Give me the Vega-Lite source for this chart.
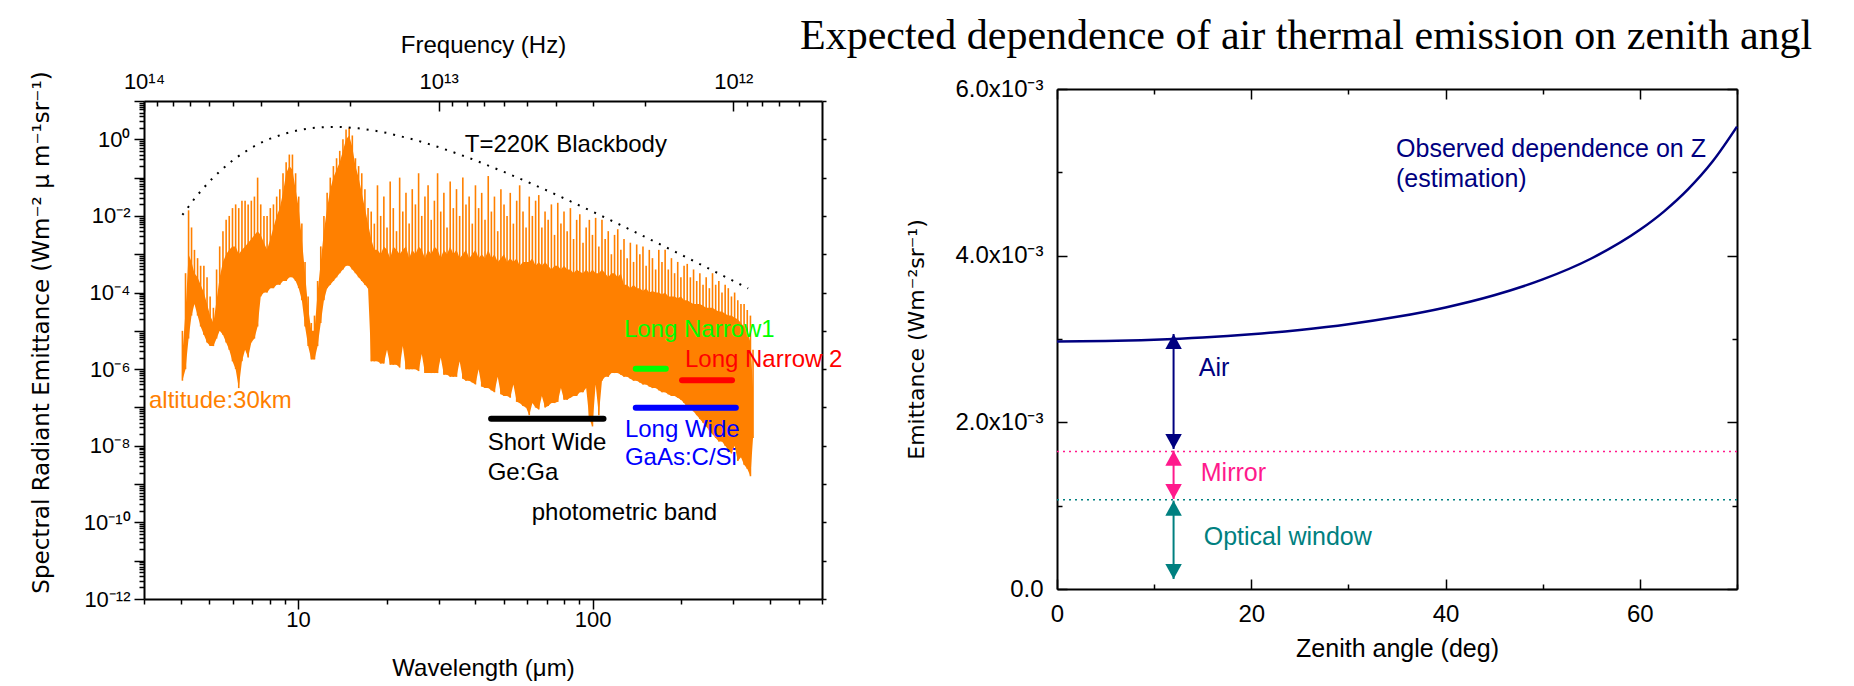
{
"$schema": "https://vega.github.io/schema/vega-lite/v6.json",
"background": "white",
"padding": {"left": 30, "top": 15, "right": 5, "bottom": 5},
"bounds": "flush",
"spacing": 235,
"resolve": {"scale": {"color": "independent", "shape": "independent"}},
"config": {
  "view": {"stroke": null},
  "axis": {"grid": false, "domainColor": "#000000", "tickColor": "#000000", "labelColor": "#000000", "titleColor": "#000000", "labelFont": "Liberation Sans", "titleFont": "Liberation Sans", "titleFontWeight": "normal", "labelFlush": false, "labelOverlap": false, "labelBound": false, "domainWidth": 2, "tickWidth": 1.5},
  "text": {"font": "Liberation Sans"}
},
"datasets": {
  "spec": [
    {"w":4.05,"lo":5e-7,"mid":2.5e-6,"hi":1e-5},
    {"w":4.15,"lo":1e-6,"mid":3.2e-5,"hi":3.2e-4},
    {"w":4.25,"lo":6.3e-6,"mid":1e-3,"hi":1.4e-2},
    {"w":4.35,"lo":2.5e-5,"mid":6.3e-4,"hi":5e-3},
    {"w":4.45,"lo":5e-5,"mid":3.2e-4,"hi":1.3e-3},
    {"w":4.56,"lo":2.5e-5,"mid":2.5e-4,"hi":7.9e-4},
    {"w":4.67,"lo":1.3e-5,"mid":1.6e-4,"hi":5e-4},
    {"w":4.79,"lo":7.9e-6,"mid":1e-4,"hi":5e-4},
    {"w":4.91,"lo":5e-6,"mid":5e-5,"hi":2.5e-4},
    {"w":5.03,"lo":4e-6,"mid":2.5e-5,"hi":7.9e-5},
    {"w":5.16,"lo":4e-6,"mid":1.6e-5,"hi":4e-5},
    {"w":5.29,"lo":6.3e-6,"mid":6.3e-5,"hi":4e-4},
    {"w":5.42,"lo":1e-5,"mid":2.5e-4,"hi":1.6e-3},
    {"w":5.56,"lo":7.9e-6,"mid":6.3e-4,"hi":4e-3},
    {"w":5.7,"lo":5e-6,"mid":1e-3,"hi":7.9e-3},
    {"w":5.84,"lo":3.2e-6,"mid":1.3e-3,"hi":1e-2},
    {"w":5.99,"lo":1.6e-6,"mid":1.6e-3,"hi":1.6e-2},
    {"w":6.14,"lo":1e-6,"mid":1.6e-3,"hi":2e-2},
    {"w":6.29,"lo":3.2e-7,"mid":1e-3,"hi":1.6e-2},
    {"w":6.45,"lo":1.6e-6,"mid":1.3e-3,"hi":2.5e-2},
    {"w":6.61,"lo":3.2e-6,"mid":1.6e-3,"hi":2.5e-2},
    {"w":6.77,"lo":2e-6,"mid":2e-3,"hi":2e-2},
    {"w":6.94,"lo":5e-6,"mid":2.5e-3,"hi":2.5e-2},
    {"w":7.11,"lo":6.3e-6,"mid":3.2e-3,"hi":3.2e-2},
    {"w":7.29,"lo":1.3e-5,"mid":4e-3,"hi":1e-1},
    {"w":7.47,"lo":7.9e-5,"mid":3.2e-3,"hi":2e-2},
    {"w":7.66,"lo":1e-4,"mid":2e-3,"hi":1e-2},
    {"w":7.85,"lo":1e-4,"mid":1.3e-3,"hi":1e-2},
    {"w":8.05,"lo":1.3e-4,"mid":2.5e-3,"hi":1.6e-2},
    {"w":8.25,"lo":1.3e-4,"mid":5e-3,"hi":2e-2},
    {"w":8.46,"lo":1.6e-4,"mid":1e-2,"hi":3.2e-2},
    {"w":8.67,"lo":1.6e-4,"mid":1.6e-2,"hi":5e-2},
    {"w":8.89,"lo":2e-4,"mid":4e-2,"hi":1.3e-1},
    {"w":9.11,"lo":2e-4,"mid":1.3e-1,"hi":2.5e-1},
    {"w":9.34,"lo":2.5e-4,"mid":2e-1,"hi":4e-1},
    {"w":9.57,"lo":2.5e-4,"mid":1.6e-1,"hi":4e-1},
    {"w":9.81,"lo":2e-4,"mid":5e-2,"hi":1.3e-1},
    {"w":10.05,"lo":1.3e-4,"mid":1.6e-2,"hi":3.2e-2},
    {"w":10.3,"lo":6.3e-5,"mid":2.5e-3,"hi":6.3e-3},
    {"w":10.56,"lo":1.3e-5,"mid":3.2e-4,"hi":6.3e-4},
    {"w":10.82,"lo":4e-6,"mid":4e-5,"hi":7.9e-5},
    {"w":11.09,"lo":1.8e-6,"mid":1e-5,"hi":1.6e-5},
    {"w":11.37,"lo":1.8e-6,"mid":1e-5,"hi":2.5e-5},
    {"w":11.65,"lo":4e-6,"mid":1e-4,"hi":2e-4},
    {"w":11.94,"lo":1.6e-5,"mid":6.3e-4,"hi":1.6e-3},
    {"w":12.24,"lo":6.3e-5,"mid":4e-3,"hi":1e-2},
    {"w":12.55,"lo":1.3e-4,"mid":1.6e-2,"hi":4e-2},
    {"w":12.86,"lo":1.6e-4,"mid":5e-2,"hi":1e-1},
    {"w":13.18,"lo":2e-4,"mid":1e-1,"hi":2e-1},
    {"w":13.51,"lo":2.5e-4,"mid":1.6e-1,"hi":3.2e-1},
    {"w":13.85,"lo":3.2e-4,"mid":2.5e-1,"hi":5e-1},
    {"w":14.2,"lo":4e-4,"mid":5e-1,"hi":1},
    {"w":14.55,"lo":5e-4,"mid":1,"hi":1.8},
    {"w":14.91,"lo":5e-4,"mid":1.26,"hi":2},
    {"w":15.28,"lo":4e-4,"mid":6.3e-1,"hi":1.26},
    {"w":15.66,"lo":3.2e-4,"mid":2e-1,"hi":3.2e-1},
    {"w":16.05,"lo":2.5e-4,"mid":1e-1,"hi":2e-1},
    {"w":16.45,"lo":2e-4,"mid":4e-2,"hi":1.3e-1},
    {"w":16.86,"lo":1.6e-4,"mid":1.6e-2,"hi":5e-2},
    {"w":17.28,"lo":1.3e-4,"mid":6.3e-3,"hi":1.6e-2},
    {"w":17.71,"lo":1.6e-6,"mid":2.5e-3,"hi":1.3e-2},
    {"w":18.15,"lo":1.6e-6,"mid":1.3e-3,"hi":6.3e-3},
    {"w":18.6,"lo":1.6e-6,"mid":1.3e-3,"hi":6.3e-2},
    {"w":19.07,"lo":1.4e-6,"mid":1e-3,"hi":1e-2},
    {"w":19.55,"lo":1.4e-6,"mid":1.6e-3,"hi":3.2e-2},
    {"w":20.04,"lo":3.2e-6,"mid":1.3e-3,"hi":5e-3},
    {"w":20.54,"lo":1.3e-6,"mid":7.9e-4,"hi":7.9e-2},
    {"w":21.05,"lo":1.3e-6,"mid":1.6e-3,"hi":1.6e-2},
    {"w":21.58,"lo":1.3e-6,"mid":1.3e-3,"hi":4e-3},
    {"w":22.12,"lo":1.1e-6,"mid":1e-3,"hi":1e-1},
    {"w":22.67,"lo":4e-6,"mid":1.3e-3,"hi":1.3e-2},
    {"w":23.24,"lo":1e-6,"mid":1.6e-3,"hi":4e-2},
    {"w":23.82,"lo":1e-6,"mid":7.9e-4,"hi":6.3e-3},
    {"w":24.41,"lo":1e-6,"mid":1.3e-3,"hi":5e-2},
    {"w":25.02,"lo":1e-6,"mid":1e-3,"hi":2e-2},
    {"w":25.65,"lo":8.9e-7,"mid":1.6e-3,"hi":1.3e-1},
    {"w":26.29,"lo":2.5e-6,"mid":1.3e-3,"hi":1e-2},
    {"w":26.95,"lo":7.9e-7,"mid":7.9e-4,"hi":3.2e-2},
    {"w":27.62,"lo":7.9e-7,"mid":1.3e-3,"hi":6.3e-2},
    {"w":28.31,"lo":7.9e-7,"mid":1e-3,"hi":7.9e-3},
    {"w":29.02,"lo":7.9e-7,"mid":1.6e-3,"hi":2.5e-2},
    {"w":29.75,"lo":7.9e-7,"mid":1.3e-3,"hi":1.3e-1},
    {"w":30.49,"lo":2e-6,"mid":7.9e-4,"hi":1.3e-2},
    {"w":31.25,"lo":7.1e-7,"mid":1.3e-3,"hi":4e-2},
    {"w":32.03,"lo":7.1e-7,"mid":1e-3,"hi":5e-3},
    {"w":32.83,"lo":6.3e-7,"mid":1.6e-3,"hi":7.9e-2},
    {"w":33.65,"lo":6.3e-7,"mid":1e-3,"hi":1.6e-2},
    {"w":34.49,"lo":6.3e-7,"mid":1.3e-3,"hi":5e-2},
    {"w":35.35,"lo":1.6e-6,"mid":7.9e-4,"hi":1e-2},
    {"w":36.24,"lo":5.6e-7,"mid":1e-3,"hi":1e-1},
    {"w":37.14,"lo":5e-7,"mid":1.3e-3,"hi":2e-2},
    {"w":38.07,"lo":5e-7,"mid":7.9e-4,"hi":3.2e-2},
    {"w":39.02,"lo":4.5e-7,"mid":1e-3,"hi":6.3e-3},
    {"w":40,"lo":4e-7,"mid":1.3e-3,"hi":6.3e-2},
    {"w":41,"lo":1e-6,"mid":7.9e-4,"hi":1.6e-2},
    {"w":42,"lo":3.5e-7,"mid":1e-3,"hi":4e-2},
    {"w":43.1,"lo":3.2e-7,"mid":7.9e-4,"hi":7.9e-3},
    {"w":44.2,"lo":3.2e-7,"mid":1.3e-3,"hi":1.1e-1},
    {"w":45.3,"lo":2.8e-7,"mid":7.9e-4,"hi":1.3e-2},
    {"w":46.4,"lo":2.5e-7,"mid":1e-3,"hi":3.2e-2},
    {"w":47.6,"lo":6.3e-7,"mid":6.3e-4,"hi":4e-3},
    {"w":48.8,"lo":2.2e-7,"mid":7.9e-4,"hi":5e-2},
    {"w":50,"lo":2e-7,"mid":1e-3,"hi":2e-2},
    {"w":51.2,"lo":2e-7,"mid":6.3e-4,"hi":1e-2},
    {"w":52.5,"lo":1.8e-7,"mid":7.9e-4,"hi":4e-2},
    {"w":53.8,"lo":4e-7,"mid":6.3e-4,"hi":6.3e-3},
    {"w":55.2,"lo":1.4e-7,"mid":7.9e-4,"hi":2.5e-2},
    {"w":56.5,"lo":1.3e-7,"mid":5e-4,"hi":6.3e-2},
    {"w":58,"lo":1.1e-7,"mid":6.3e-4,"hi":1.3e-2},
    {"w":59.4,"lo":1e-7,"mid":6.3e-4,"hi":5e-3},
    {"w":60.9,"lo":6.3e-8,"mid":6.3e-4,"hi":3.2e-2},
    {"w":62.4,"lo":1.3e-7,"mid":7.9e-4,"hi":1e-2},
    {"w":64,"lo":1e-7,"mid":5e-4,"hi":2.5e-2},
    {"w":65.6,"lo":8.9e-8,"mid":6.3e-4,"hi":3.5e-2},
    {"w":67.2,"lo":2e-7,"mid":5e-4,"hi":5e-3},
    {"w":68.9,"lo":1e-7,"mid":6.3e-4,"hi":1.3e-2},
    {"w":70.6,"lo":1.1e-7,"mid":5e-4,"hi":7.9e-3},
    {"w":72.4,"lo":1.3e-7,"mid":4e-4,"hi":2e-2},
    {"w":74.2,"lo":1.3e-7,"mid":5e-4,"hi":3.2e-3},
    {"w":76.1,"lo":1.4e-7,"mid":5e-4,"hi":2.2e-2},
    {"w":78,"lo":3.2e-7,"mid":4e-4,"hi":6.3e-3},
    {"w":79.9,"lo":1.6e-7,"mid":5e-4,"hi":1.3e-2},
    {"w":81.9,"lo":1.6e-7,"mid":4e-4,"hi":4e-3},
    {"w":84,"lo":1.8e-7,"mid":4e-4,"hi":1.6e-2},
    {"w":86.1,"lo":2e-7,"mid":3.2e-4,"hi":2.5e-3},
    {"w":88.2,"lo":2e-7,"mid":4e-4,"hi":7.9e-3},
    {"w":90.4,"lo":2.5e-7,"mid":3.5e-4,"hi":1.1e-2},
    {"w":92.7,"lo":2.5e-7,"mid":3.2e-4,"hi":2e-3},
    {"w":95,"lo":3.2e-7,"mid":4e-4,"hi":5e-3},
    {"w":97.4,"lo":5e-8,"mid":3.2e-4,"hi":7.9e-3},
    {"w":99.8,"lo":3.2e-8,"mid":4e-4,"hi":3.2e-3},
    {"w":102.3,"lo":4e-7,"mid":3.2e-4,"hi":8.9e-3},
    {"w":104.9,"lo":6.3e-8,"mid":3.2e-4,"hi":1.6e-3},
    {"w":107.5,"lo":5e-7,"mid":4e-4,"hi":7.9e-3},
    {"w":110.2,"lo":6.3e-7,"mid":3.2e-4,"hi":2.5e-3},
    {"w":112.9,"lo":6.3e-7,"mid":2.5e-4,"hi":4e-3},
    {"w":115.7,"lo":7.9e-7,"mid":3.2e-4,"hi":1e-3},
    {"w":118.6,"lo":7.9e-7,"mid":3.2e-4,"hi":3.2e-3},
    {"w":121.6,"lo":7.9e-7,"mid":2.5e-4,"hi":4.5e-3},
    {"w":124.6,"lo":7.1e-7,"mid":3.2e-4,"hi":1.3e-3},
    {"w":127.7,"lo":6.3e-7,"mid":1.6e-4,"hi":2.5e-3},
    {"w":130.9,"lo":6.3e-7,"mid":1.6e-4,"hi":7.9e-4},
    {"w":134.2,"lo":5.6e-7,"mid":1.3e-4,"hi":2e-3},
    {"w":137.6,"lo":5e-7,"mid":1.6e-4,"hi":6.3e-4},
    {"w":141,"lo":5e-7,"mid":1.3e-4,"hi":1.8e-3},
    {"w":144.5,"lo":4.5e-7,"mid":1.3e-4,"hi":1e-3},
    {"w":148.1,"lo":4e-7,"mid":1.1e-4,"hi":1.6e-3},
    {"w":151.8,"lo":4e-7,"mid":1.3e-4,"hi":5e-4},
    {"w":155.6,"lo":3.5e-7,"mid":1e-4,"hi":1.3e-3},
    {"w":159.5,"lo":3.2e-7,"mid":1.1e-4,"hi":7.9e-4},
    {"w":163.5,"lo":3.2e-7,"mid":1e-4,"hi":4e-4},
    {"w":167.6,"lo":2.8e-7,"mid":1e-4,"hi":1.3e-3},
    {"w":171.8,"lo":2.5e-7,"mid":8.9e-5,"hi":6.3e-4},
    {"w":176.1,"lo":2.5e-7,"mid":1e-4,"hi":1.3e-3},
    {"w":180.5,"lo":2.2e-7,"mid":7.9e-5,"hi":4e-4},
    {"w":185,"lo":2e-7,"mid":7.9e-5,"hi":7.9e-4},
    {"w":189.6,"lo":2e-7,"mid":7.9e-5,"hi":3.2e-4},
    {"w":194.3,"lo":1.8e-7,"mid":7.1e-5,"hi":6.3e-4},
    {"w":199.2,"lo":1.6e-7,"mid":7.9e-5,"hi":2.5e-4},
    {"w":204.2,"lo":1.3e-7,"mid":6.3e-5,"hi":5e-4},
    {"w":209.3,"lo":1e-7,"mid":6.3e-5,"hi":5.6e-4},
    {"w":214.5,"lo":1e-7,"mid":5.6e-5,"hi":2.5e-4},
    {"w":219.9,"lo":7.9e-8,"mid":5e-5,"hi":4e-4},
    {"w":225.4,"lo":6.3e-8,"mid":5e-5,"hi":2e-4},
    {"w":231,"lo":5e-8,"mid":5e-5,"hi":3.2e-4},
    {"w":236.8,"lo":4e-8,"mid":4.5e-5,"hi":1.6e-4},
    {"w":242.7,"lo":3.2e-8,"mid":4e-5,"hi":2.5e-4},
    {"w":248.8,"lo":2.5e-8,"mid":4e-5,"hi":1.3e-4},
    {"w":255,"lo":2e-8,"mid":4e-5,"hi":3.2e-4},
    {"w":261.4,"lo":1.6e-8,"mid":3.5e-5,"hi":1.6e-4},
    {"w":267.9,"lo":1.3e-8,"mid":3.2e-5,"hi":2e-4},
    {"w":274.6,"lo":1.3e-8,"mid":3.2e-5,"hi":1e-4},
    {"w":281.5,"lo":1e-8,"mid":2.8e-5,"hi":1.6e-4},
    {"w":288.5,"lo":7.9e-9,"mid":2.5e-5,"hi":1.3e-4},
    {"w":295.7,"lo":6.3e-9,"mid":2.5e-5,"hi":7.9e-5},
    {"w":303.1,"lo":1e-8,"mid":2.2e-5,"hi":1e-4},
    {"w":310.7,"lo":4e-9,"mid":2e-5,"hi":6.3e-5},
    {"w":318.5,"lo":5e-9,"mid":1.6e-5,"hi":5e-5},
    {"w":326.4,"lo":3.2e-9,"mid":1.3e-5,"hi":5e-5},
    {"w":334.6,"lo":2.5e-9,"mid":1e-5,"hi":3.5e-5},
    {"w":343,"lo":1.6e-9,"mid":5e-6,"hi":2.5e-5},
    {"w":350,"lo":1.6e-8,"mid":3.2e-7,"hi":3.2e-6}
  ],
  "bb": [
    {"w":4.05,"bb":0.0106},{"w":4.5,"bb":0.0315},{"w":5,"bb":0.0795},{"w":5.5,"bb":0.162},{"w":6,"bb":0.283},{"w":6.5,"bb":0.438},{"w":7,"bb":0.621},{"w":7.5,"bb":0.82},{"w":8,"bb":1.024},{"w":9,"bb":1.41},{"w":10,"bb":1.72},{"w":11,"bb":1.94},{"w":12,"bb":2.07},{"w":13,"bb":2.11},{"w":14,"bb":2.09},{"w":16,"bb":1.94},{"w":18,"bb":1.71},{"w":20,"bb":1.47},{"w":25,"bb":0.962},{"w":30,"bb":0.625},{"w":35,"bb":0.414},{"w":40,"bb":0.282},{"w":50,"bb":0.141},{"w":60,"bb":0.0776},{"w":70,"bb":0.0459},{"w":80,"bb":0.0287},{"w":100,"bb":0.0129},{"w":120,"bb":0.00661},{"w":150,"bb":0.00287},{"w":200,"bb":0.000962},{"w":250,"bb":0.000408},{"w":300,"bb":0.000201},{"w":337,"bb":0.000128}
  ],
  "bands": [
    {"w1":45.2,"w2":108.8,"v":5.06e-8,"grp":"SW"},
    {"w1":140,"w2":177,"v":1.02e-6,"grp":"LN1"},
    {"w1":201,"w2":297,"v":5.1e-7,"grp":"LN2"},
    {"w1":140,"w2":306,"v":9.8e-8,"grp":"LW"}
  ],
  "ltext": [
    {"w":36.8,"v":0.48,"t":"T=220K Blackbody","grp":"bb"},
    {"w":3.12,"v":9.6e-8,"t":"altitude:30km","grp":"alt"},
    {"w":44,"v":7.7e-9,"t":"Short Wide","grp":"SW"},
    {"w":44,"v":1.27e-9,"t":"Ge:Ga","grp":"SW"},
    {"w":128.6,"v":1.68e-8,"t":"Long Wide","grp":"LW"},
    {"w":128.6,"v":3.13e-9,"t":"GaAs:C/Si","grp":"LW"},
    {"w":127.6,"v":6.84e-6,"t":"Long Narrow1","grp":"LN1"},
    {"w":205.6,"v":1.13e-6,"t":"Long Narrow 2","grp":"LN2"},
    {"w":62.1,"v":1.15e-10,"t":"photometric band","grp":"note"}
  ],
  "freq": [{"f":1e13,"v":1e-6}],
  "curve": [
    {"z":0,"e":0.00297},{"z":5,"e":0.002975},{"z":10,"e":0.002991},{"z":15,"e":0.003017},{"z":20,"e":0.003056},{"z":25,"e":0.003109},{"z":30,"e":0.003177},{"z":35,"e":0.003266},{"z":40,"e":0.003379},{"z":45,"e":0.003525},{"z":50,"e":0.003715},{"z":55,"e":0.003966},{"z":60,"e":0.00431},{"z":62.5,"e":0.004532},{"z":65,"e":0.004801},{"z":67.5,"e":0.005132},{"z":70,"e":0.005548}
  ],
  "levels": [{"e":0.00165,"part":"Mirror"},{"e":0.00107,"part":"Window"}],
  "arrows": [
    {"z":12,"e":0.00306,"e2":0.00168,"part":"Air"},
    {"z":12,"e":0.00166,"e2":0.00108,"part":"Mirror"},
    {"z":12,"e":0.00106,"e2":0.00012,"part":"Window"}
  ],
  "heads": [
    {"z":12,"e":0.00306,"dir":"up","part":"Air"},
    {"z":12,"e":0.00168,"dir":"down","part":"Air"},
    {"z":12,"e":0.00166,"dir":"up","part":"Mirror"},
    {"z":12,"e":0.00108,"dir":"down","part":"Mirror"},
    {"z":12,"e":0.00106,"dir":"up","part":"Window"},
    {"z":12,"e":0.00012,"dir":"down","part":"Window"}
  ],
  "rtext": [
    {"z":34.9,"e":0.00519,"t":"Observed dependence on Z","part":"Obs"},
    {"z":34.9,"e":0.00483,"t":"(estimation)","part":"Obs"},
    {"z":14.6,"e":0.002556,"t":"Air","part":"Air"},
    {"z":14.8,"e":0.001296,"t":"Mirror","part":"Mirror"},
    {"z":15.1,"e":0.000528,"t":"Optical window","part":"Window"}
  ],
  "mirror": [{"z":0,"e":0}]
},
"hconcat": [
  {
    "width": 678,
    "height": 498,
    "resolve": {"scale": {"x": "independent"}, "axis": {"x": "independent", "y": "independent"}},
    "layer": [
      {
        "layer": [
          {
            "data": {"name": "spec"},
            "mark": {"type": "area", "color": "#ff8000"},
            "encoding": {
              "x": {"field": "w", "type": "quantitative",
                "scale": {"type": "log", "domain": [3, 600], "nice": false},
                "axis": {"title": "Wavelength (μm)", "values": [3,4,5,6,7,8,9,10,20,30,40,50,60,70,80,90,100,200,300,400,500,600],
                  "labelExpr": "(datum.value == 10 || datum.value == 100) ? ('' + datum.value) : ''",
                  "tickSize": {"condition": {"test": "datum.value == 10 || datum.value == 100", "value": 10}, "value": 5},
                  "labelFontSize": 22, "titleFontSize": 24, "labelPadding": 0, "titlePadding": 26}},
              "y": {"field": "lo", "type": "quantitative",
                "scale": {"type": "log", "domain": [1e-12, 10], "nice": false},
                "axis": {"title": "Spectral Radiant Emittance (Wm⁻² μ m⁻¹sr⁻¹)", "titleFont": "DejaVu Sans", "titleFontSize": 23, "titleY": 231,
                  "values": [1e-12,2e-12,3e-12,4e-12,5e-12,6e-12,7e-12,8e-12,9e-12,1e-11,2e-11,3e-11,4e-11,5e-11,6e-11,7e-11,8e-11,9e-11,1e-10,2e-10,3e-10,4e-10,5e-10,6e-10,7e-10,8e-10,9e-10,1e-9,2e-9,3e-9,4e-9,5e-9,6e-9,7e-9,8e-9,9e-9,1e-8,2e-8,3e-8,4e-8,5e-8,6e-8,7e-8,8e-8,9e-8,1e-7,2e-7,3e-7,4e-7,5e-7,6e-7,7e-7,8e-7,9e-7,1e-6,2e-6,3e-6,4e-6,5e-6,6e-6,7e-6,8e-6,9e-6,1e-5,2e-5,3e-5,4e-5,5e-5,6e-5,7e-5,8e-5,9e-5,1e-4,2e-4,3e-4,4e-4,5e-4,6e-4,7e-4,8e-4,9e-4,0.001,0.002,0.003,0.004,0.005,0.006,0.007,0.008,0.009,0.01,0.02,0.03,0.04,0.05,0.06,0.07,0.08,0.09,0.1,0.2,0.3,0.4,0.5,0.6,0.7,0.8,0.9,1,2,3,4,5,6,7,8,9,10],
                  "labelExpr": "abs(log(datum.value)/LN10 - round(log(datum.value)/LN10)) < 0.001 && round(log(datum.value)/LN10) <= 0 ? ['10⁰','','10⁻²','','10⁻⁴','','10⁻⁶','','10⁻⁸','','10⁻¹⁰','','10⁻¹²'][-round(log(datum.value)/LN10)] : ''",
                  "tickSize": {"condition": {"test": "abs(log(datum.value)/LN10 - round(log(datum.value)/LN10)) < 0.001", "value": 10}, "value": 5},
                  "labelFontSize": 22, "labelPadding": 4, "titlePadding": 30}},
              "y2": {"field": "mid"}
            }
          },
          {
            "data": {"name": "spec"},
            "mark": {"type": "rule", "color": "#ff8000", "strokeWidth": 1.6},
            "encoding": {
              "x": {"field": "w", "type": "quantitative"},
              "y": {"field": "lo", "type": "quantitative"},
              "y2": {"field": "hi"}
            }
          },
          {
            "data": {"name": "bb"},
            "mark": {"type": "line", "color": "#000000", "strokeWidth": 2, "strokeDash": [2, 7]},
            "encoding": {
              "x": {"field": "w", "type": "quantitative"},
              "y": {"field": "bb", "type": "quantitative"}
            }
          },
          {
            "data": {"name": "bands"},
            "mark": {"type": "rule", "strokeWidth": 6, "strokeCap": "round"},
            "encoding": {
              "x": {"field": "w1", "type": "quantitative"},
              "x2": {"field": "w2"},
              "y": {"field": "v", "type": "quantitative"},
              "color": {"field": "grp", "type": "nominal", "legend": null,
                "scale": {"domain": ["SW","LN1","LN2","LW","alt","bb","note"], "range": ["#000000","#00ff00","#ff0000","#0000ff","#ff8000","#000000","#000000"]}}
            }
          },
          {
            "data": {"name": "ltext"},
            "mark": {"type": "text", "align": "left", "baseline": "alphabetic", "fontSize": 24},
            "encoding": {
              "x": {"field": "w", "type": "quantitative"},
              "y": {"field": "v", "type": "quantitative"},
              "text": {"field": "t"},
              "color": {"field": "grp", "type": "nominal", "legend": null,
                "scale": {"domain": ["SW","LN1","LN2","LW","alt","bb","note"], "range": ["#000000","#00ff00","#ff0000","#0000ff","#ff8000","#000000","#000000"]}}
            }
          }
        ]
      },
      {
        "data": {"name": "freq"},
        "mark": {"type": "point", "opacity": 0},
        "encoding": {
          "x": {"field": "f", "type": "quantitative",
            "scale": {"type": "log", "domain": [5e11, 1e14], "reverse": true, "nice": false},
            "axis": {"orient": "top", "title": "Frequency (Hz)",
              "values": [6e11,7e11,8e11,9e11,1e12,2e12,3e12,4e12,5e12,6e12,7e12,8e12,9e12,1e13,2e13,3e13,4e13,5e13,6e13,7e13,8e13,9e13,1e14],
              "labelExpr": "datum.value == 1e12 ? '10¹²' : datum.value == 1e13 ? '10¹³' : datum.value == 1e14 ? '10¹⁴' : ''",
              "tickSize": {"condition": {"test": "datum.value == 1e12 || datum.value == 1e13 || datum.value == 1e14", "value": -10}, "value": -5},
              "labelFontSize": 22, "titleFontSize": 24, "labelPadding": 18, "titlePadding": 8}},
          "y": {"field": "v", "type": "quantitative",
            "axis": {"orient": "right", "title": null, "labels": false, "tickSize": 4,
              "values": [1e-12,1e-11,1e-10,1e-9,1e-8,1e-7,1e-6,1e-5,1e-4,0.001,0.01,0.1,1,10]}}
        }
      }
    ]
  },
  {
    "width": 680,
    "height": 488,
    "title": {"text": "Expected dependence of air thermal emission on zenith angl", "font": "Liberation Serif", "fontSize": 42, "fontWeight": "normal", "color": "#000000", "anchor": "start", "frame": "group", "dx": -257, "dy": 62, "offset": 48, "baseline": "alphabetic"},
    "resolve": {"axis": {"x": "independent", "y": "independent"}},
    "layer": [
      {
        "layer": [
          {
            "data": {"name": "curve"},
            "mark": {"type": "line", "color": "#000080", "strokeWidth": 2.5, "interpolate": "monotone"},
            "encoding": {
              "x": {"field": "z", "type": "quantitative",
                "scale": {"domain": [0, 70], "nice": false, "zero": false},
                "axis": {"title": "Zenith angle (deg)", "values": [0,10,20,30,40,50,60,70],
                  "labelExpr": "datum.value % 20 == 0 ? datum.label : ''",
                  "tickSize": {"condition": {"test": "datum.value % 20 == 0", "value": -10}, "value": -5},
                  "labelFontSize": 24, "titleFontSize": 25, "labelPadding": 23, "titlePadding": 5}},
              "y": {"field": "e", "type": "quantitative",
                "scale": {"domain": [0, 0.006], "range": [488, -12], "nice": false},
                "axis": {"title": "Emittance (Wm⁻²sr⁻¹)", "titleFont": "DejaVu Sans", "titleFontSize": 22,
                  "values": [0,0.001,0.002,0.003,0.004,0.005,0.006],
                  "labelExpr": "datum.value < 0.0001 ? '0.0' : abs(datum.value - 0.002) < 0.0001 ? '2.0x10⁻³' : abs(datum.value - 0.004) < 0.0001 ? '4.0x10⁻³' : abs(datum.value - 0.006) < 0.0001 ? '6.0x10⁻³' : ''",
                  "tickSize": {"condition": {"test": "datum.value < 0.0001 || abs(datum.value - 0.002) < 0.0001 || abs(datum.value - 0.004) < 0.0001 || abs(datum.value - 0.006) < 0.0001", "value": -10}, "value": -5},
                  "labelFontSize": 24, "labelPadding": 24, "titlePadding": 26}}
            }
          },
          {
            "data": {"name": "levels"},
            "mark": {"type": "rule", "strokeWidth": 1.5, "strokeDash": [2, 4]},
            "encoding": {
              "y": {"field": "e", "type": "quantitative"},
              "color": {"field": "part", "type": "nominal", "legend": null,
                "scale": {"domain": ["Obs","Air","Mirror","Window"], "range": ["#000080","#000080","#ff1a8c","#008080"]}}
            }
          },
          {
            "data": {"name": "arrows"},
            "mark": {"type": "rule", "strokeWidth": 2},
            "encoding": {
              "x": {"field": "z", "type": "quantitative"},
              "y": {"field": "e", "type": "quantitative"},
              "y2": {"field": "e2"},
              "color": {"field": "part", "type": "nominal", "legend": null,
                "scale": {"domain": ["Obs","Air","Mirror","Window"], "range": ["#000080","#000080","#ff1a8c","#008080"]}}
            }
          },
          {
            "data": {"name": "heads"},
            "mark": {"type": "point", "filled": true, "opacity": 1, "size": 900, "strokeWidth": 0},
            "encoding": {
              "x": {"field": "z", "type": "quantitative"},
              "y": {"field": "e", "type": "quantitative"},
              "shape": {"field": "dir", "type": "nominal", "legend": null,
                "scale": {"domain": ["up","down"], "range": ["M0,0L0.55,1L-0.55,1Z", "M0,0L0.55,-1L-0.55,-1Z"]}},
              "color": {"field": "part", "type": "nominal", "legend": null,
                "scale": {"domain": ["Obs","Air","Mirror","Window"], "range": ["#000080","#000080","#ff1a8c","#008080"]}}
            }
          },
          {
            "data": {"name": "rtext"},
            "mark": {"type": "text", "align": "left", "baseline": "alphabetic", "fontSize": 25},
            "encoding": {
              "x": {"field": "z", "type": "quantitative"},
              "y": {"field": "e", "type": "quantitative"},
              "text": {"field": "t"},
              "color": {"field": "part", "type": "nominal", "legend": null,
                "scale": {"domain": ["Obs","Air","Mirror","Window"], "range": ["#000080","#000080","#ff1a8c","#008080"]}}
            }
          }
        ]
      },
      {
        "data": {"name": "mirror"},
        "mark": {"type": "point", "opacity": 0},
        "encoding": {
          "x": {"field": "z", "type": "quantitative",
            "axis": {"orient": "top", "title": null, "labels": false, "offset": 12, "values": [0,10,20,30,40,50,60,70],
              "tickSize": {"condition": {"test": "datum.value % 20 == 0", "value": -10}, "value": -5}}},
          "y": {"field": "e", "type": "quantitative",
            "axis": {"orient": "right", "title": null, "labels": false, "values": [0,0.001,0.002,0.003,0.004,0.005,0.006],
              "tickSize": {"condition": {"test": "datum.value < 0.0001 || abs(datum.value - 0.002) < 0.0001 || abs(datum.value - 0.004) < 0.0001 || abs(datum.value - 0.006) < 0.0001", "value": -10}, "value": -5}}}
        }
      }
    ]
  }
]
}
